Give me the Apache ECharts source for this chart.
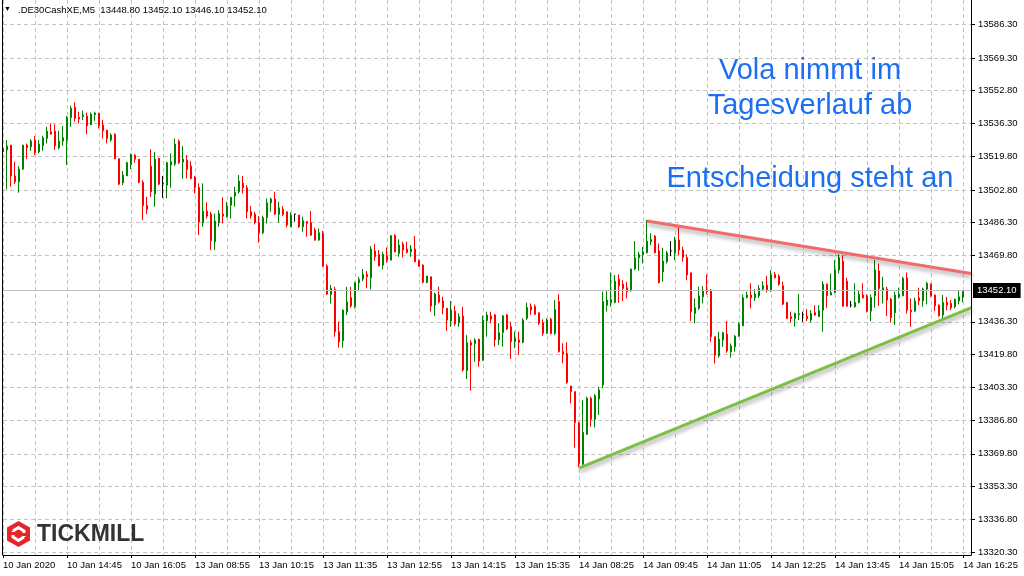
<!DOCTYPE html>
<html><head><meta charset="utf-8">
<script src="https://cdn.jsdelivr.net/npm/echarts@6/dist/echarts.min.js"></script>
<style>html,body{margin:0;padding:0;background:#fff}#c{width:1024px;height:576px}</style>
</head><body><div id="c"></div>
<script>
const symbol = '.DE30CashXE,M5';
const tickLabels = ['10 Jan 2020','10 Jan 14:45','10 Jan 16:05','13 Jan 08:55','13 Jan 10:15','13 Jan 11:35','13 Jan 12:55','13 Jan 14:15','13 Jan 15:35','14 Jan 08:25','14 Jan 09:45','14 Jan 11:05','14 Jan 12:25','14 Jan 13:45','14 Jan 15:05','14 Jan 16:25'];
const priceTicks = [13586.30,13569.30,13552.80,13536.30,13519.80,13502.80,13486.30,13469.80,13436.30,13419.80,13403.30,13386.80,13369.80,13353.30,13336.80,13320.30];
const notes = ['Vola nimmt im','Tagesverlauf ab','Entscheidung steht an'];

const opens = [13522.0,13522.9,13525.4,13509.8,13506.9,13513.3,13525.4,13524.5,13527.9,13522.0,13525.0,13528.7,13532.1,13532.4,13524.0,13527.4,13527.9,13539.2,13544.4,13539.3,13539.7,13540.0,13535.6,13540.7,13541.3,13535.5,13532.9,13527.9,13530.8,13518.5,13506.4,13509.9,13515.6,13520.3,13518.3,13506.6,13495.0,13514.8,13500.7,13518.7,13506.1,13505.2,13515.3,13515.8,13527.4,13516.8,13517.8,13514.8,13509.1,13504.0,13486.2,13492.1,13490.6,13476.7,13486.2,13490.6,13489.3,13495.1,13499.7,13501.9,13506.1,13503.9,13491.8,13490.6,13486.3,13481.2,13488.8,13496.3,13498.2,13490.5,13493.1,13491.8,13484.2,13490.6,13490.1,13484.2,13486.8,13486.3,13482.6,13477.5,13480.9,13464.4,13450.1,13452.7,13431.3,13426.8,13441.4,13448.5,13443.9,13456.0,13457.9,13460.2,13458.5,13472.0,13470.3,13464.9,13469.5,13467.4,13480.0,13470.8,13475.5,13473.0,13471.6,13473.0,13467.1,13464.9,13456.2,13459.0,13444.8,13449.8,13446.8,13443.1,13436.7,13441.7,13435.9,13439.2,13411.7,13425.8,13425.4,13427.6,13417.0,13436.9,13439.3,13439.8,13427.2,13430.9,13439.8,13433.9,13426.3,13427.2,13426.0,13438.1,13444.0,13444.0,13440.9,13435.9,13430.5,13437.6,13430.5,13446.5,13421.3,13420.4,13404.0,13401.1,13385.2,13364.5,13379.6,13397.8,13387.2,13397.4,13404.5,13444.7,13446.1,13446.1,13457.8,13455.3,13453.5,13452.0,13462.9,13468.6,13470.3,13471.1,13476.7,13479.5,13472.0,13461.5,13466.6,13472.0,13471.1,13477.5,13472.5,13468.6,13461.0,13440.5,13443.1,13448.9,13452.3,13452.3,13428.8,13419.2,13427.1,13430.1,13421.2,13423.7,13429.3,13434.3,13448.6,13449.8,13448.4,13449.4,13452.8,13454.8,13451.8,13460.2,13459.4,13454.5,13446.1,13438.9,13438.0,13439.9,13440.0,13439.2,13437.2,13441.0,13438.9,13442.2,13455.3,13449.8,13451.0,13462.4,13466.9,13456.8,13444.7,13443.9,13446.1,13449.8,13449.3,13441.7,13449.4,13461.9,13452.3,13452.8,13447.8,13440.9,13448.9,13449.4,13458.5,13442.2,13441.7,13448.4,13446.9,13452.8,13455.3,13449.8,13444.7,13439.7,13446.1,13445.6,13443.9,13446.8,13448.8];
const highs = [13528.7,13527.9,13525.4,13517.0,13514.8,13525.4,13526.2,13528.4,13529.9,13527.9,13530.1,13534.6,13536.3,13535.8,13532.6,13535.0,13540.0,13545.2,13546.9,13542.2,13542.7,13541.8,13541.8,13542.2,13541.7,13538.0,13532.9,13531.3,13531.3,13518.5,13512.3,13517.0,13521.2,13520.8,13518.3,13507.7,13499.3,13523.2,13522.0,13519.0,13509.8,13517.0,13521.2,13528.7,13528.2,13524.9,13520.3,13517.3,13509.8,13506.1,13506.1,13496.5,13491.8,13490.9,13492.6,13499.0,13496.8,13499.3,13504.4,13510.3,13509.8,13505.2,13494.7,13491.8,13489.6,13489.8,13498.5,13498.9,13501.9,13496.8,13494.7,13491.8,13491.5,13490.6,13490.1,13489.3,13487.1,13492.1,13483.7,13483.4,13482.1,13465.3,13454.8,13454.0,13436.4,13442.6,13454.0,13454.0,13456.5,13459.0,13462.9,13461.9,13474.5,13475.5,13472.5,13471.6,13473.8,13480.0,13480.4,13477.9,13476.7,13476.7,13475.0,13479.5,13467.8,13465.3,13459.4,13459.0,13451.0,13454.0,13449.0,13443.4,13446.8,13444.3,13440.6,13443.9,13429.6,13427.1,13428.0,13427.6,13439.4,13441.4,13441.4,13440.3,13435.6,13439.8,13440.3,13436.4,13431.4,13431.4,13438.1,13446.0,13445.6,13445.1,13440.9,13437.6,13438.1,13438.4,13447.3,13450.2,13425.5,13426.0,13404.0,13401.1,13386.0,13396.9,13398.6,13398.6,13399.9,13403.6,13451.5,13451.8,13461.2,13459.9,13460.2,13457.3,13456.5,13463.2,13477.0,13471.6,13474.1,13487.6,13480.9,13480.0,13475.8,13473.6,13472.0,13477.0,13479.2,13485.1,13474.1,13470.3,13461.0,13448.1,13454.0,13454.3,13460.2,13452.8,13428.8,13431.3,13431.3,13436.7,13425.4,13429.6,13436.0,13450.1,13451.5,13455.7,13452.8,13454.8,13456.8,13459.5,13462.4,13461.5,13460.2,13456.5,13446.1,13441.4,13441.0,13450.3,13441.4,13442.7,13442.2,13444.7,13444.7,13456.8,13455.7,13460.7,13467.4,13470.3,13469.9,13458.5,13446.8,13455.7,13452.3,13455.7,13450.1,13450.1,13467.4,13465.7,13459.0,13454.0,13448.4,13451.5,13453.5,13459.0,13461.2,13448.1,13448.4,13453.5,13453.5,13456.5,13455.7,13450.1,13445.1,13449.8,13448.9,13447.3,13448.1,13451.8,13452.1];
const lows = [13520.3,13503.0,13504.4,13505.7,13501.4,13512.8,13518.3,13522.4,13520.3,13521.2,13522.5,13526.2,13530.8,13522.9,13523.2,13525.0,13515.3,13534.6,13537.1,13536.3,13538.0,13530.9,13535.5,13537.6,13533.8,13528.7,13526.2,13527.1,13518.3,13505.2,13505.2,13509.8,13513.3,13516.5,13506.1,13487.6,13490.6,13499.3,13494.3,13505.2,13498.8,13498.5,13503.9,13514.8,13515.8,13508.4,13508.6,13508.1,13501.0,13480.0,13484.2,13488.4,13472.5,13472.5,13484.2,13485.9,13488.8,13488.4,13494.3,13501.0,13501.0,13488.4,13488.3,13485.4,13476.2,13480.4,13485.9,13491.8,13490.1,13486.3,13489.6,13483.9,13484.2,13486.8,13483.7,13481.7,13479.2,13479.7,13477.2,13477.2,13464.1,13449.8,13445.6,13428.8,13423.3,13423.3,13439.7,13443.4,13443.1,13452.3,13456.9,13453.2,13452.7,13467.1,13464.4,13462.7,13466.1,13467.4,13471.3,13469.1,13468.8,13470.8,13469.1,13466.3,13464.1,13455.7,13455.7,13441.4,13439.2,13445.6,13440.1,13431.7,13433.8,13434.3,13433.8,13411.2,13407.5,13401.6,13416.2,13413.7,13416.7,13428.8,13435.6,13423.8,13424.6,13423.8,13432.2,13417.6,13423.0,13419.6,13425.5,13437.2,13439.8,13439.8,13434.7,13429.2,13430.5,13430.0,13429.7,13420.8,13415.4,13405.0,13395.2,13372.9,13363.0,13364.2,13379.3,13383.5,13383.1,13389.4,13402.8,13441.4,13443.9,13445.6,13445.9,13446.8,13448.1,13451.5,13462.4,13462.0,13465.7,13470.8,13475.0,13470.8,13455.7,13456.5,13465.7,13469.4,13467.4,13469.9,13466.6,13457.3,13436.7,13435.5,13442.2,13445.6,13450.1,13426.3,13415.3,13418.2,13423.7,13420.7,13418.2,13421.2,13428.8,13434.2,13448.1,13443.1,13446.8,13448.4,13451.8,13451.1,13451.5,13458.2,13454.5,13444.7,13437.7,13436.0,13433.8,13437.2,13436.3,13436.7,13436.0,13439.4,13438.9,13431.3,13443.4,13449.8,13450.6,13460.7,13443.9,13443.9,13443.6,13443.4,13445.6,13448.1,13441.0,13436.7,13443.4,13444.4,13445.6,13439.2,13436.0,13434.7,13448.1,13449.3,13440.5,13433.8,13441.4,13444.7,13443.9,13445.1,13448.9,13441.7,13438.9,13438.0,13442.2,13442.2,13443.1,13445.1,13446.1];
const closes = [13523.7,13524.9,13509.8,13506.9,13513.3,13525.4,13524.0,13527.4,13521.5,13525.9,13529.1,13532.4,13530.9,13525.0,13527.4,13529.1,13539.3,13543.9,13538.8,13538.5,13540.5,13535.1,13541.0,13541.5,13535.1,13532.6,13528.7,13530.4,13518.5,13505.7,13510.3,13516.5,13520.7,13518.3,13506.6,13494.8,13493.0,13501.9,13518.3,13505.7,13506.1,13516.5,13517.0,13525.9,13516.5,13518.3,13513.1,13508.6,13503.9,13486.7,13492.1,13489.6,13477.2,13487.1,13490.9,13489.6,13494.6,13499.0,13501.5,13507.2,13503.9,13491.8,13489.8,13486.3,13481.2,13488.8,13496.3,13498.2,13490.6,13493.8,13490.5,13485.1,13490.1,13490.6,13484.2,13487.3,13485.9,13480.0,13477.5,13481.2,13464.4,13450.3,13453.2,13431.3,13426.3,13442.2,13446.4,13444.3,13456.0,13457.7,13460.2,13459.0,13473.0,13469.1,13464.4,13470.3,13467.4,13479.7,13471.6,13475.0,13472.5,13471.3,13473.0,13466.6,13464.4,13456.2,13459.4,13444.3,13450.3,13446.4,13443.4,13437.2,13442.2,13435.2,13438.9,13412.0,13425.8,13424.6,13427.1,13416.5,13437.2,13439.7,13437.7,13427.2,13430.9,13439.3,13432.7,13426.3,13428.0,13426.0,13437.2,13443.5,13442.3,13440.1,13435.6,13430.5,13437.2,13430.5,13442.6,13421.3,13420.1,13405.7,13401.1,13385.5,13365.0,13380.6,13397.8,13387.2,13399.1,13402.0,13446.5,13447.3,13447.6,13456.8,13454.5,13453.1,13451.5,13462.9,13468.6,13470.3,13471.6,13477.0,13477.8,13471.1,13456.0,13466.9,13471.1,13472.0,13477.5,13472.5,13468.8,13459.9,13441.4,13443.4,13449.3,13452.3,13451.5,13428.8,13419.5,13427.6,13430.8,13421.6,13424.1,13429.1,13435.2,13448.4,13449.8,13448.4,13450.3,13453.1,13454.5,13452.3,13459.9,13458.5,13455.2,13445.2,13438.0,13438.0,13440.5,13440.4,13440.0,13438.0,13440.5,13439.7,13441.9,13455.3,13449.4,13451.0,13462.4,13468.6,13444.2,13444.2,13444.7,13446.1,13450.1,13448.4,13441.7,13448.6,13462.4,13453.1,13453.5,13447.3,13438.4,13449.8,13450.3,13458.2,13442.2,13441.4,13446.8,13446.9,13452.8,13455.7,13449.4,13444.4,13439.4,13446.1,13444.7,13443.4,13447.6,13448.9,13452.1];

const resistanceLine = [[161, 13487.1], [242, 13460.7]];
const supportLine = [[144, 13362.6], [242, 13443.3]];

const n = opens.length;
const padBars = 2;
const cats = [];
for (let i = 0; i < n + padBars; i++) cats.push(String(i));
const candles = opens.map((o, i) => [o, closes[i], lows[i], highs[i]]);
const last = n - 1;
const lastPrice = closes[last];
const header = symbol + '  ' + [opens[last], highs[last], lows[last], closes[last]].map(v => v.toFixed(2)).join(' ');

const FONT = 'Liberation Sans, Arial, sans-serif';
const chart = echarts.init(document.getElementById('c'), null, {renderer: 'canvas'});
chart.setOption({
  animation: false,
  backgroundColor: '#fff',
  grid: {left: 3, right: 53, top: 0, bottom: 21, containLabel: false},
  xAxis: {
    type: 'category', data: cats, boundaryGap: false,
    axisLine: {show: true, lineStyle: {color: '#000', width: 1}},
    axisTick: {show: true, interval: 15, length: 3, lineStyle: {color: '#000'}},
    axisLabel: {interval: 15, align: 'left', color: '#000', fontSize: 9.5, fontFamily: FONT, margin: 5,
      formatter: (v, i) => tickLabels[i / 16] || ''},
    splitLine: {show: true, interval: 7, lineStyle: {color: '#c4c4c4', type: [4, 3], width: 1}}
  },
  yAxis: {
    type: 'value', position: 'right', min: 13318.8, max: 13598.5, scale: true,
    axisLine: {show: true, lineStyle: {color: '#000', width: 1}},
    axisTick: {show: true, customValues: priceTicks, length: 4, lineStyle: {color: '#000'}},
    axisLabel: {customValues: priceTicks, formatter: v => v.toFixed(2), color: '#000', fontSize: 9.5, fontFamily: FONT, margin: 7},
    splitLine: {show: true, lineStyle: {color: '#c4c4c4', type: [4, 3], width: 1}}
  },
  series: [{
    type: 'candlestick',
    data: candles,
    barWidth: 2,
    itemStyle: {color: '#008000', color0: '#ff0000', borderColor: '#008000', borderColor0: '#ff0000', borderColorDoji: '#000000', borderWidth: 1},
    emphasis: {disabled: true},
    markLine: {
      silent: true, symbol: ['none', 'none'], animation: false,
      data: [
        {yAxis: lastPrice, lineStyle: {color: '#c0c0c0', type: 'solid', width: 1},
          label: {show: true, position: 'end', distance: 2, formatter: lastPrice.toFixed(2), color: '#fff', backgroundColor: '#000',
            padding: [3, 4, 2, 4], fontSize: 9.5, fontFamily: FONT}},
        [{coord: resistanceLine[0], lineStyle: {color: '#f26b6b', width: 3, type: 'solid', shadowColor: 'rgba(0,0,0,0.35)', shadowBlur: 4, shadowOffsetY: 3, shadowOffsetX: 1}, label: {show: false}},
         {coord: resistanceLine[1]}],
        [{coord: supportLine[0], lineStyle: {color: '#7cbf45', width: 3, type: 'solid', shadowColor: 'rgba(0,0,0,0.35)', shadowBlur: 4, shadowOffsetY: 3, shadowOffsetX: 1}, label: {show: false}},
         {coord: supportLine[1]}]
      ]
    }
  }],
  graphic: [
    {type: 'line', shape: {x1: 2.5, y1: 0, x2: 2.5, y2: 555}, style: {stroke: '#000', lineWidth: 1}, z: 10},
    {type: 'text', left: 4, top: 6, style: {text: '\u25BC', fontSize: 7, fill: '#000', fontFamily: FONT}, z: 10},
    {type: 'text', left: 18, top: 5, style: {text: header, fontSize: 9.5, fill: '#000', fontFamily: FONT}, z: 10},
    {type: 'text', x: 810, y: 71, style: {text: notes[0], fontSize: 29, fill: '#1d6ff2', fontFamily: FONT, align: 'center', verticalAlign: 'middle'}, z: 10},
    {type: 'text', x: 810, y: 106, style: {text: notes[1], fontSize: 29, fill: '#1d6ff2', fontFamily: FONT, align: 'center', verticalAlign: 'middle'}, z: 10},
    {type: 'text', x: 810, y: 179, style: {text: notes[2], fontSize: 29, fill: '#1d6ff2', fontFamily: FONT, align: 'center', verticalAlign: 'middle'}, z: 10},
    {type: 'polygon', shape: {points: [[18.5, 521], [30, 527.5], [30, 540.5], [18.5, 547], [7, 540.5], [7, 527.5]]}, style: {fill: '#e3262b'}, z: 10},
    {type: 'polyline', shape: {points: [[13, 531], [18.5, 527.5], [24, 531], [24, 537]]}, style: {stroke: '#fff', lineWidth: 3, fill: null}, z: 11},
    {type: 'polyline', shape: {points: [[24, 537], [18.5, 540.5], [13, 537], [13, 531]]}, style: {stroke: '#fff', lineWidth: 3, fill: null}, z: 11},
    {type: 'rect', shape: {x: 11, y: 532, width: 4, height: 3}, style: {fill: '#e3262b'}, z: 12},
    {type: 'rect', shape: {x: 22, y: 533, width: 4, height: 3}, style: {fill: '#e3262b'}, z: 12},
    {type: 'text', left: 37, top: 523, style: {text: 'TICKMILL', fontSize: 23, fontWeight: 'bold', fill: '#333333', fontFamily: FONT}, z: 10}
  ]
});
</script></body></html>
